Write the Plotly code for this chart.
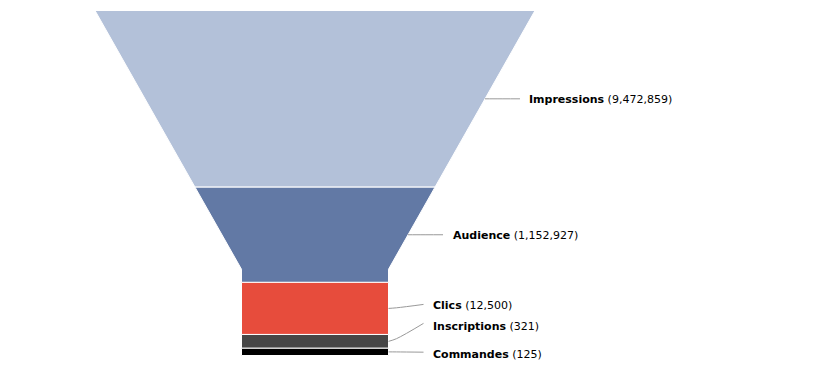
import plotly.graph_objects as go

# Funnel stages and their counts
stages = ["Impressions", "Audience", "Clics", "Inscriptions", "Commandes"]
values = [9472859, 1152927, 12500, 321, 125]
# Relative height (percent of the funnel) given to each stage
section_share = [51.2, 27.6, 15.1, 4.0, 2.1]
colors = ["#b3c1d9", "#6279a5", "#e74c3c", "#464646", "#000000"]

# Funnel geometry (pixel space)
W, H = 817, 386
cx = 315.0
top_y, bottom_y = 10.5, 355.5
top_w, neck_w = 440.0, 147.0
neck_frac = 0.25
neck_y = bottom_y - neck_frac * (bottom_y - top_y)


def half_width(y):
    if y >= neck_y:
        return neck_w / 2
    t = (y - top_y) / (neck_y - top_y)
    return top_w / 2 - (top_w - neck_w) / 2 * t


def section_polygon(y0, y1):
    ys = [y0] + ([neck_y] if y0 < neck_y < y1 else []) + [y1]
    right = [(cx + half_width(y), y) for y in ys]
    left = [(cx - half_width(y), y) for y in reversed(ys)]
    pts = right + left + [right[0]]
    return [p[0] for p in pts], [p[1] for p in pts]


fig = go.Figure()

total_share = sum(section_share)
span = bottom_y - top_y
bounds = [top_y]
for s in section_share:
    bounds.append(bounds[-1] + span * s / total_share)

# label placement: vertical shift of each label from its section centre
label_shift = [0.0, 0.0, -4.0, -18.0, 0.3]
text_drop = [0.5, 0.3, 0.7, 3.4, 2.7]
conn_len = 35.0
text_gap = 7.5

for i, (name, val) in enumerate(zip(stages, values)):
    y0, y1 = bounds[i], bounds[i + 1]
    xs, ys = section_polygon(y0, y1)
    fig.add_trace(go.Scatter(
        x=xs, y=ys, mode="lines", fill="toself", fillcolor=colors[i],
        line=dict(color="#ffffff", width=1), hoverinfo="skip", showlegend=False,
    ))

    yc = (y0 + y1) / 2
    xe = cx + half_width(yc)
    ye = yc + label_shift[i]
    xend = xe + conn_len
    cxs = [xe, xe + 8, xend]
    cys = [yc, yc + (ye - yc) * 0.15, ye]
    fig.add_trace(go.Scatter(
        x=cxs, y=cys, mode="lines", line=dict(color="#999999", width=1, shape="spline"),
        hoverinfo="skip", showlegend=False,
    ))
    fig.add_annotation(
        x=xend + text_gap, y=ye + text_drop[i], xref="x", yref="y",
        text=f"<b>{name}</b> ({val:,})", showarrow=False,
        xanchor="left", yanchor="middle",
        font=dict(family="DejaVu Sans", size=11, color="#000000"),
    )

fig.update_layout(
    width=W, height=H, margin=dict(l=0, r=0, t=0, b=0),
    paper_bgcolor="#ffffff", plot_bgcolor="#ffffff",
    xaxis=dict(range=[0, W], visible=False, fixedrange=True),
    yaxis=dict(range=[H, 0], visible=False, fixedrange=True),
    showlegend=False,
)

fig.write_html("out.html")
